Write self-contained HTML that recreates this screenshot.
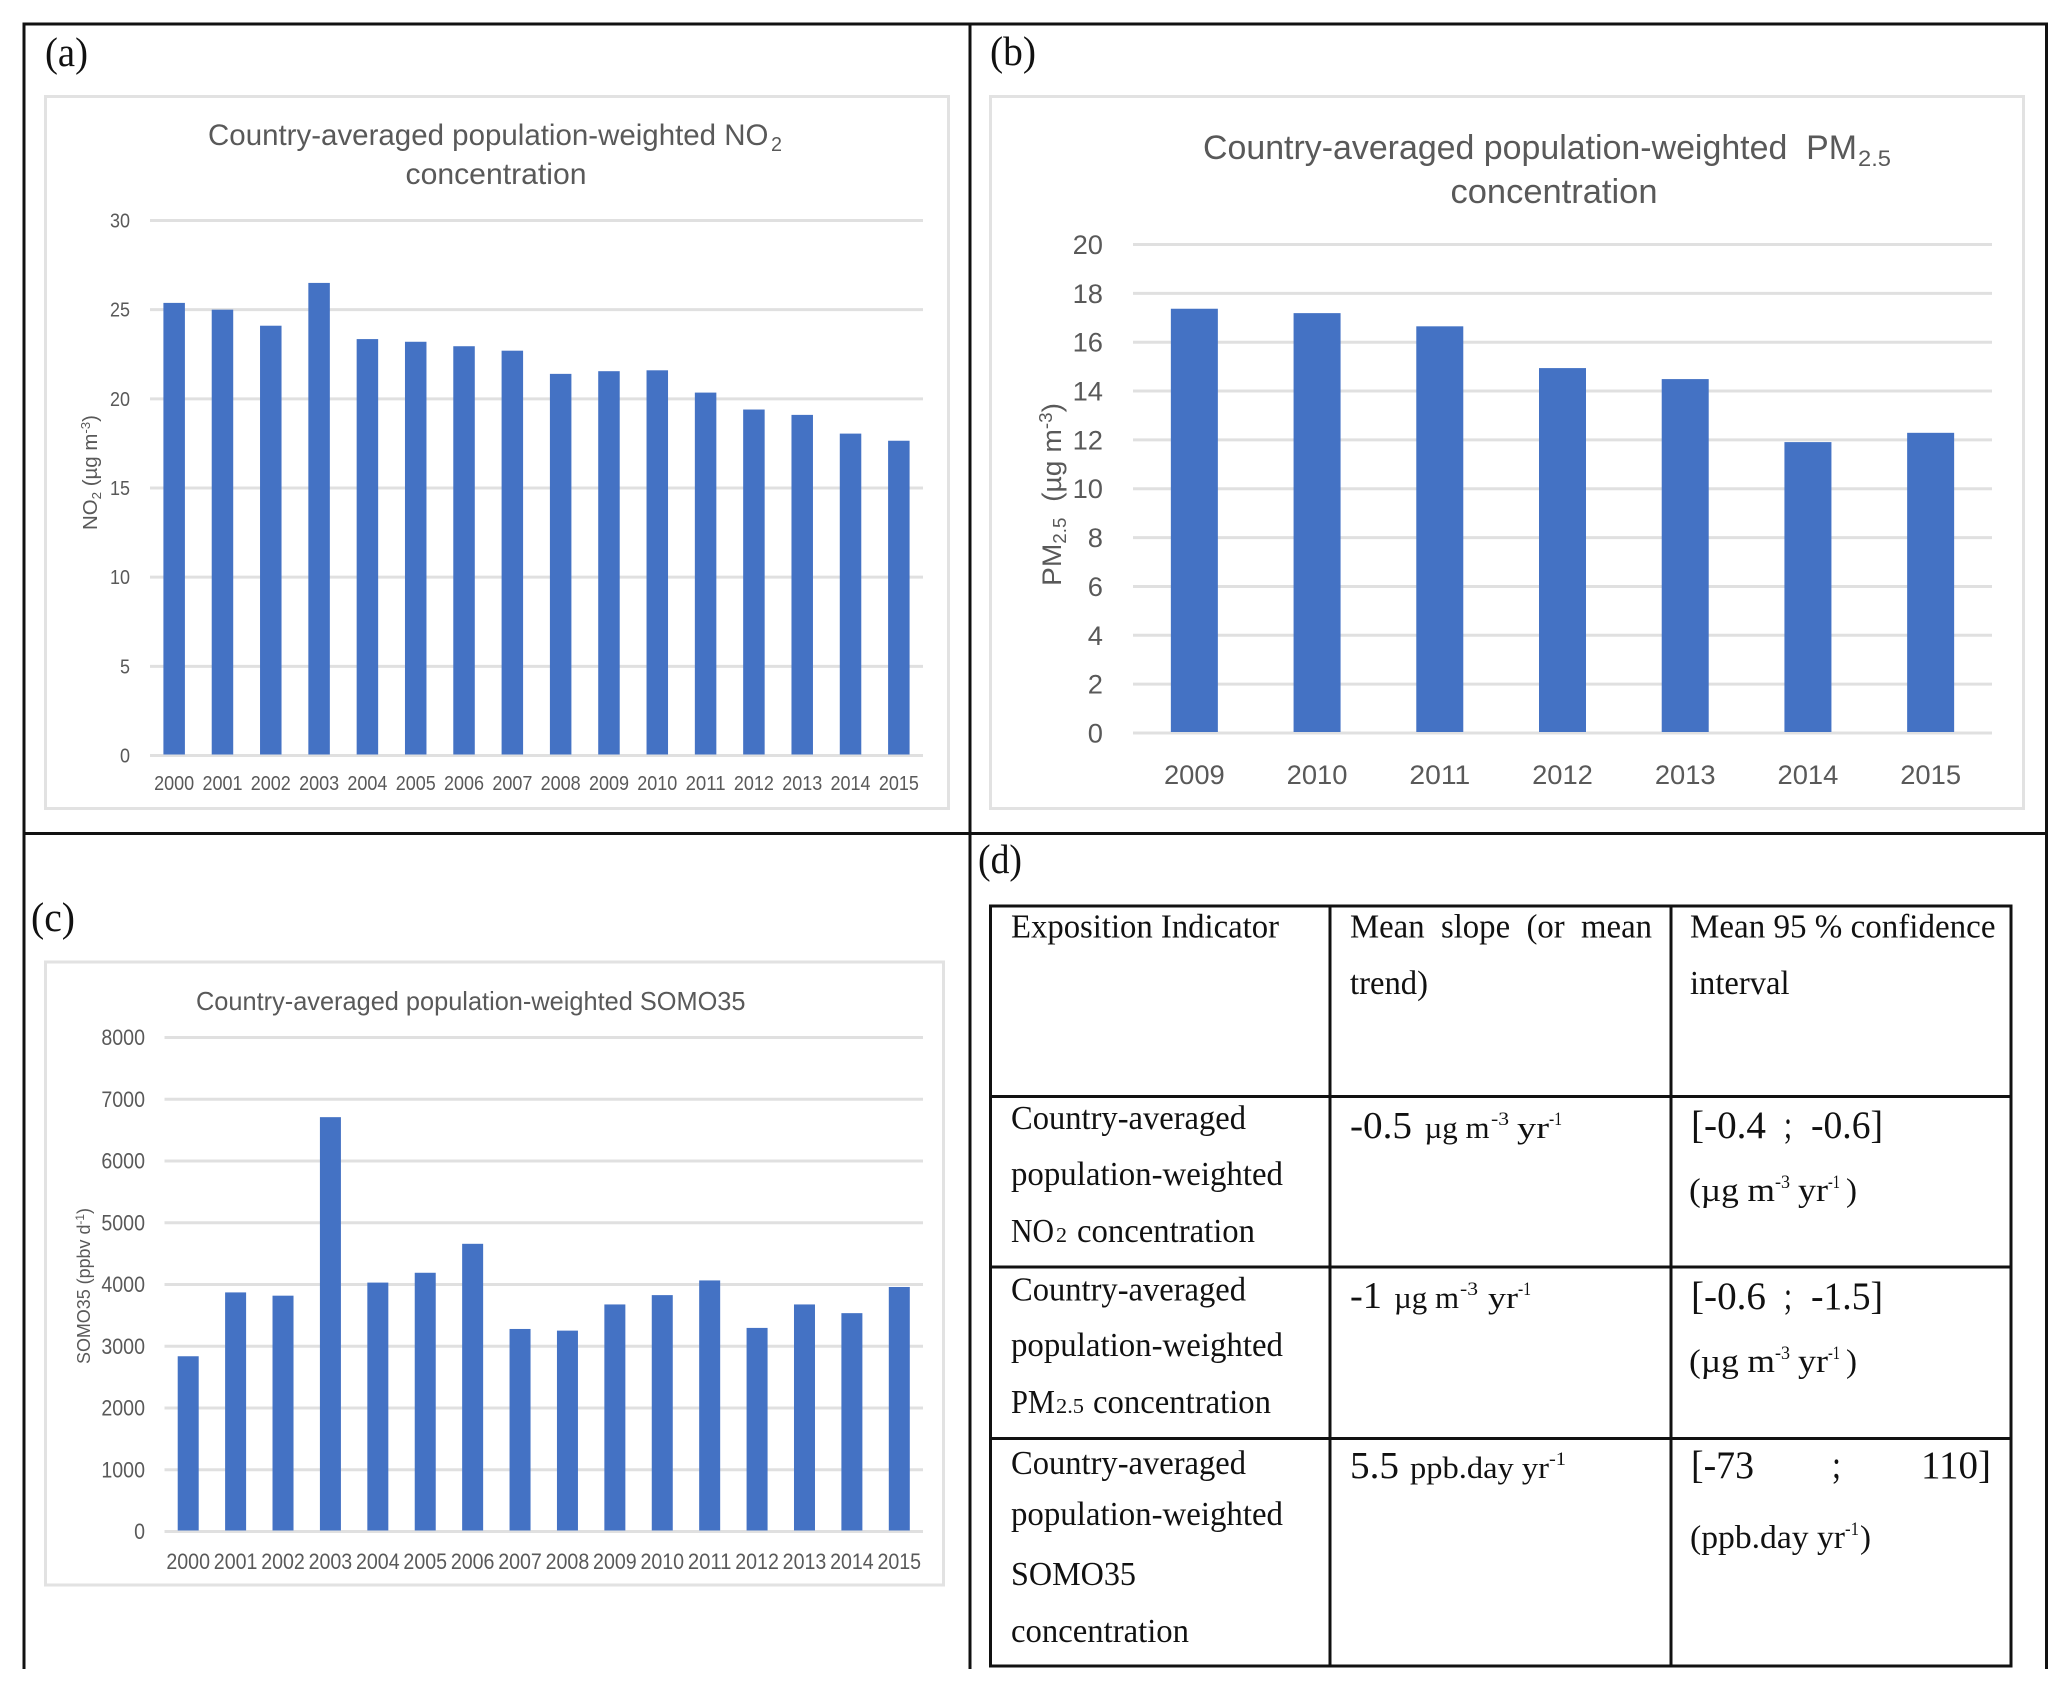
<!DOCTYPE html>
<html lang="en">
<head>
<meta charset="utf-8">
<title>Country-averaged population-weighted exposure indicators</title>
<style>
html,body{margin:0;padding:0;background:#fff;width:2067px;height:1686px;overflow:hidden}
svg{display:block}
text{white-space:pre}
.sans{font-family:"Liberation Sans",sans-serif;fill:#595959}
.serif{font-family:"Liberation Serif",serif;fill:#111}
</style>
</head>
<body>
<svg id="figure" xmlns="http://www.w3.org/2000/svg" width="2067" height="1686" viewBox="0 0 2067 1686">
<rect x="0" y="0" width="2067" height="1686" fill="#fff"/>

<g stroke="#111" stroke-width="3" fill="none">
  <path d="M24 1669V24H2046.5V1669"/>
  <path d="M970 24V1669"/>
  <path d="M24 833.5H2046.5"/>
</g>

<g class="serif" font-size="41">
  <text x="45" y="66" textLength="43" lengthAdjust="spacingAndGlyphs">(a)</text>
  <text x="990" y="65" textLength="46" lengthAdjust="spacingAndGlyphs">(b)</text>
  <text x="31" y="931" textLength="44" lengthAdjust="spacingAndGlyphs">(c)</text>
  <text x="978" y="873" textLength="44" lengthAdjust="spacingAndGlyphs">(d)</text>
</g>

<!-- chart a frame and titles -->
<rect x="45.5" y="96.5" width="903" height="712" fill="#fff" stroke="#e2e2e2" stroke-width="3"/>
<g class="sans">
  <text x="208" y="145" font-size="30" textLength="560.5" lengthAdjust="spacingAndGlyphs">Country-averaged population-weighted NO</text>
  <text x="771" y="151" font-size="20" textLength="11" lengthAdjust="spacingAndGlyphs">2</text>
  <text x="405.5" y="184" font-size="30" textLength="181" lengthAdjust="spacingAndGlyphs">concentration</text>
</g>
<text class="sans" transform="translate(97 530) rotate(-90)" font-size="20" textLength="115" lengthAdjust="spacingAndGlyphs">NO<tspan dy="4" font-size="13">2</tspan><tspan dy="-4"> (µg m</tspan><tspan dy="-7" font-size="13">-3</tspan><tspan dy="7">)</tspan></text>
<g id="chart-a"></g>

<!-- chart b frame and titles -->
<rect x="990.5" y="96.5" width="1033" height="712" fill="#fff" stroke="#e2e2e2" stroke-width="3"/>
<g class="sans">
  <text x="1203" y="159" font-size="34" textLength="654" lengthAdjust="spacingAndGlyphs">Country-averaged population-weighted  PM</text>
  <text x="1858" y="166" font-size="22" textLength="33" lengthAdjust="spacingAndGlyphs">2.5</text>
  <text x="1450.5" y="203" font-size="34" textLength="207" lengthAdjust="spacingAndGlyphs">concentration</text>
</g>
<text class="sans" transform="translate(1061 586) rotate(-90)" font-size="27" textLength="183" lengthAdjust="spacingAndGlyphs">PM<tspan dy="5" font-size="18">2.5</tspan><tspan dy="-5">  (µg m</tspan><tspan dy="-9" font-size="18">-3</tspan><tspan dy="9">)</tspan></text>
<g id="chart-b"></g>

<!-- chart c frame and titles -->
<rect x="45.5" y="962" width="898" height="623" fill="#fff" stroke="#e2e2e2" stroke-width="3"/>
<text class="sans" x="196" y="1010" font-size="26" textLength="549.5" lengthAdjust="spacingAndGlyphs">Country-averaged population-weighted SOMO35</text>
<text class="sans" transform="translate(90 1364) rotate(-90)" font-size="18" textLength="156" lengthAdjust="spacingAndGlyphs">SOMO35 (ppbv d<tspan dy="-6" font-size="12">-1</tspan><tspan dy="6">)</tspan></text>
<g id="chart-c"></g>

<!-- table d -->
<g>
  <g stroke="#111" stroke-width="3" fill="none">
    <rect x="990.5" y="906" width="1020.5" height="760"/>
    <path d="M1330 906V1666"/>
    <path d="M1671 906V1666"/>
    <path d="M990.5 1096.5H2011"/>
    <path d="M990.5 1267H2011"/>
    <path d="M990.5 1438.5H2011"/>
  </g>
  <g class="serif" font-size="34">
    <text x="1011" y="937.5" textLength="268" lengthAdjust="spacingAndGlyphs">Exposition Indicator</text>
    <text x="1350" y="937.5" textLength="302" lengthAdjust="spacingAndGlyphs">Mean  slope  (or  mean</text>
    <text x="1350" y="994" textLength="78" lengthAdjust="spacingAndGlyphs">trend)</text>
    <text x="1690" y="937.5" textLength="305.5" lengthAdjust="spacingAndGlyphs">Mean 95 % confidence</text>
    <text x="1690" y="994" textLength="99.5" lengthAdjust="spacingAndGlyphs">interval</text>

    <text x="1011" y="1129" textLength="235" lengthAdjust="spacingAndGlyphs">Country-averaged</text>
    <text x="1011" y="1185" textLength="272" lengthAdjust="spacingAndGlyphs">population-weighted</text>
    <text x="1011" y="1242" textLength="43" lengthAdjust="spacingAndGlyphs">NO</text>
    <text x="1056" y="1242" font-size="21" textLength="11" lengthAdjust="spacingAndGlyphs">2</text>
    <text x="1077" y="1242" textLength="178" lengthAdjust="spacingAndGlyphs">concentration</text>

    <text x="1350" y="1138" font-size="38" textLength="62" lengthAdjust="spacingAndGlyphs">-0.5</text>
    <text x="1424.5" y="1138" font-size="31" textLength="65" lengthAdjust="spacingAndGlyphs">µg m</text>
    <text x="1491" y="1125" font-size="19" textLength="18" lengthAdjust="spacingAndGlyphs">-3</text>
    <text x="1517" y="1138" font-size="31" textLength="32" lengthAdjust="spacingAndGlyphs">yr</text>
    <text x="1549" y="1125" font-size="19" textLength="13" lengthAdjust="spacingAndGlyphs">-1</text>

    <text x="1691" y="1138" font-size="39" textLength="75" lengthAdjust="spacingAndGlyphs">[-0.4</text>
    <text x="1784" y="1138" font-size="39" textLength="8" lengthAdjust="spacingAndGlyphs">;</text>
    <text x="1811" y="1138" font-size="39" textLength="72" lengthAdjust="spacingAndGlyphs">-0.6]</text>
    <text x="1689" y="1201" font-size="33" textLength="86" lengthAdjust="spacingAndGlyphs">(µg m</text>
    <text x="1775" y="1188" font-size="19" textLength="15" lengthAdjust="spacingAndGlyphs">-3</text>
    <text x="1798" y="1201" font-size="33" textLength="30" lengthAdjust="spacingAndGlyphs">yr</text>
    <text x="1828" y="1188" font-size="19" textLength="12" lengthAdjust="spacingAndGlyphs">-1</text>
    <text x="1846" y="1201" font-size="33" textLength="11" lengthAdjust="spacingAndGlyphs">)</text>

    <text x="1011" y="1300.5" textLength="235" lengthAdjust="spacingAndGlyphs">Country-averaged</text>
    <text x="1011" y="1356" textLength="272" lengthAdjust="spacingAndGlyphs">population-weighted</text>
    <text x="1011" y="1413" textLength="44" lengthAdjust="spacingAndGlyphs">PM</text>
    <text x="1056" y="1413" font-size="21" textLength="28" lengthAdjust="spacingAndGlyphs">2.5</text>
    <text x="1093" y="1413" textLength="178" lengthAdjust="spacingAndGlyphs">concentration</text>

    <text x="1350" y="1308" font-size="38" textLength="32" lengthAdjust="spacingAndGlyphs">-1</text>
    <text x="1394" y="1308" font-size="31" textLength="65" lengthAdjust="spacingAndGlyphs">µg m</text>
    <text x="1460" y="1295" font-size="19" textLength="18" lengthAdjust="spacingAndGlyphs">-3</text>
    <text x="1488" y="1308" font-size="31" textLength="30" lengthAdjust="spacingAndGlyphs">yr</text>
    <text x="1518" y="1295" font-size="19" textLength="13" lengthAdjust="spacingAndGlyphs">-1</text>

    <text x="1691" y="1309" font-size="39" textLength="75" lengthAdjust="spacingAndGlyphs">[-0.6</text>
    <text x="1784" y="1309" font-size="39" textLength="8" lengthAdjust="spacingAndGlyphs">;</text>
    <text x="1811" y="1309" font-size="39" textLength="72" lengthAdjust="spacingAndGlyphs">-1.5]</text>
    <text x="1689" y="1372" font-size="33" textLength="86" lengthAdjust="spacingAndGlyphs">(µg m</text>
    <text x="1775" y="1359" font-size="19" textLength="15" lengthAdjust="spacingAndGlyphs">-3</text>
    <text x="1798" y="1372" font-size="33" textLength="30" lengthAdjust="spacingAndGlyphs">yr</text>
    <text x="1828" y="1359" font-size="19" textLength="12" lengthAdjust="spacingAndGlyphs">-1</text>
    <text x="1846" y="1372" font-size="33" textLength="11" lengthAdjust="spacingAndGlyphs">)</text>

    <text x="1011" y="1474" textLength="235" lengthAdjust="spacingAndGlyphs">Country-averaged</text>
    <text x="1011" y="1525" textLength="272" lengthAdjust="spacingAndGlyphs">population-weighted</text>
    <text x="1011" y="1585" textLength="125" lengthAdjust="spacingAndGlyphs">SOMO35</text>
    <text x="1011" y="1642" textLength="178" lengthAdjust="spacingAndGlyphs">concentration</text>

    <text x="1350" y="1478" font-size="38" textLength="49" lengthAdjust="spacingAndGlyphs">5.5</text>
    <text x="1410" y="1478" font-size="31" textLength="139" lengthAdjust="spacingAndGlyphs">ppb.day yr</text>
    <text x="1549" y="1465" font-size="19" textLength="17" lengthAdjust="spacingAndGlyphs">-1</text>

    <text x="1691" y="1478" font-size="39" textLength="63" lengthAdjust="spacingAndGlyphs">[-73</text>
    <text x="1832" y="1478" font-size="39" textLength="9" lengthAdjust="spacingAndGlyphs">;</text>
    <text x="1921" y="1478" font-size="39" textLength="70" lengthAdjust="spacingAndGlyphs">110]</text>
    <text x="1690" y="1548" font-size="33" textLength="155" lengthAdjust="spacingAndGlyphs">(ppb.day yr</text>
    <text x="1845" y="1535" font-size="19" textLength="14" lengthAdjust="spacingAndGlyphs">-1</text>
    <text x="1860" y="1548" font-size="33" textLength="11" lengthAdjust="spacingAndGlyphs">)</text>
  </g>
</g>
</svg>

<script>
const no2Years = ["2000","2001","2002","2003","2004","2005","2006","2007","2008","2009","2010","2011","2012","2013","2014","2015"];
const no2Values = [25.38,25.0,24.1,26.5,23.35,23.2,22.95,22.7,21.4,21.55,21.6,20.35,19.4,19.1,18.05,17.65];
const no2Ticks = [0,5,10,15,20,25,30];

const pmYears = ["2009","2010","2011","2012","2013","2014","2015"];
const pmValues = [17.37,17.19,16.65,14.94,14.49,11.91,12.29];
const pmTicks = [0,2,4,6,8,10,12,14,16,18,20];

const somoYears = ["2000","2001","2002","2003","2004","2005","2006","2007","2008","2009","2010","2011","2012","2013","2014","2015"];
const somoValues = [2838,3872,3819,6710,4031,4190,4659,3280,3253,3677,3828,4066,3297,3677,3536,3960];
const somoTicks = [0,1000,2000,3000,4000,5000,6000,7000,8000];

const SVGNS = "http://www.w3.org/2000/svg";

function drawChart(groupId, years, values, ticks, layout) {
  const group = document.getElementById(groupId);
  const yMax = ticks[ticks.length - 1];
  const yScale = v => layout.bottom - (v / yMax) * (layout.bottom - layout.top);
  const band = (layout.right - layout.left) / years.length;
  const xScale = i => layout.left + band * (i + 0.5);

  ticks.forEach(t => {
    const line = document.createElementNS(SVGNS, "line");
    
    
    line.setAttribute("x1", layout.left);
    line.setAttribute("x2", layout.right);
    line.setAttribute("y1", yScale(t));
    line.setAttribute("y2", yScale(t));
    line.setAttribute("stroke", "#e0e0e0");
    line.setAttribute("stroke-width", "3");
    group.appendChild(line);

    const label = document.createElementNS(SVGNS, "text");
    
    
    const str = String(t);
    label.textContent = str;
    label.setAttribute("class", "sans");
    label.setAttribute("font-size", layout.font);
    label.setAttribute("x", layout.yLabelRight - str.length * layout.digit);
    label.setAttribute("y", yScale(t) + layout.font * 0.35);
    label.setAttribute("textLength", str.length * layout.digit);
    label.setAttribute("lengthAdjust", "spacingAndGlyphs");
    group.appendChild(label);
  });

  values.forEach((v, i) => {
    const bar = document.createElementNS(SVGNS, "rect");
    
    
    bar.setAttribute("x", xScale(i) - layout.barWidth / 2);
    bar.setAttribute("y", yScale(v));
    bar.setAttribute("width", layout.barWidth);
    bar.setAttribute("height", layout.bottom - yScale(v) - 1);
    bar.setAttribute("fill", "#4472c4");
    group.appendChild(bar);
  });

  years.forEach((yr, i) => {
    const label = document.createElementNS(SVGNS, "text");
    
    
    label.textContent = yr;
    label.setAttribute("class", "sans");
    label.setAttribute("font-size", layout.font);
    const w = yr.length * layout.digit;
    label.setAttribute("x", xScale(i) - w / 2);
    label.setAttribute("y", layout.xLabelBase);
    label.setAttribute("textLength", w);
    label.setAttribute("lengthAdjust", "spacingAndGlyphs");
    group.appendChild(label);
  });
}

drawChart("chart-a", no2Years, no2Values, no2Ticks, {left:150, right:923, top:220.5, bottom:755.5, barWidth:21.5, font:20, digit:10, yLabelRight:130, xLabelBase:790});
drawChart("chart-b", pmYears, pmValues, pmTicks, {left:1133, right:1992, top:244.5, bottom:733, barWidth:47, font:27, digit:15.2, yLabelRight:1103, xLabelBase:784});
drawChart("chart-c", somoYears, somoValues, somoTicks, {left:164.5, right:923, top:1037.5, bottom:1531.5, barWidth:21, font:22, digit:10.9, yLabelRight:145, xLabelBase:1569});
</script>
</body>
</html>
